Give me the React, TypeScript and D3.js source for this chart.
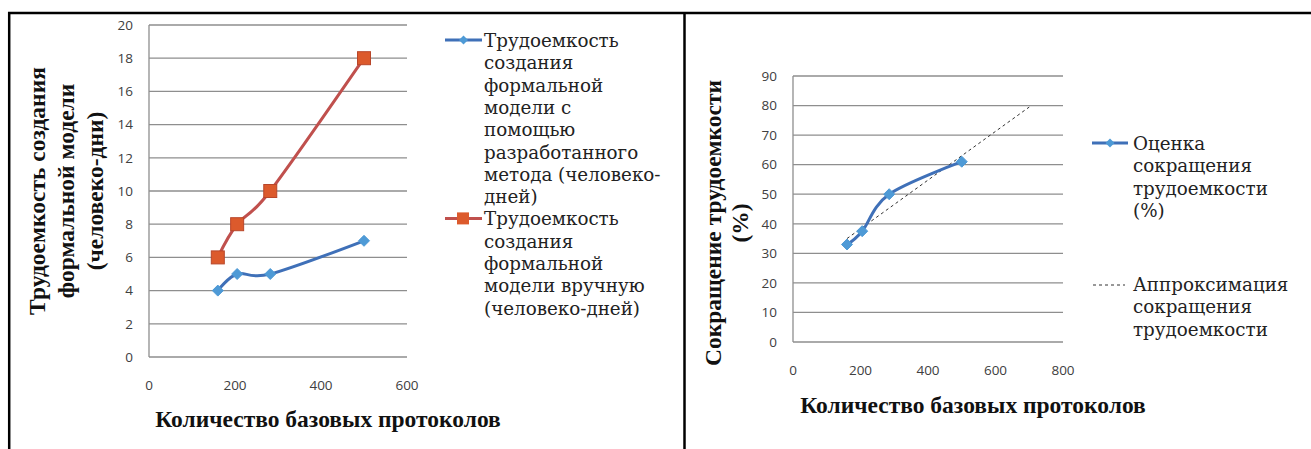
import React from 'react';
import * as d3 from 'd3';

// left chart: labour input (person-days) vs number of base protocols
const protocolsL: number[] = [160, 205, 282, 500];
const methodDays: number[] = [4, 5, 5, 7];
const manualDays: number[] = [6, 8, 10, 18];
const leftYTicks: number[] = [0, 2, 4, 6, 8, 10, 12, 14, 16, 18, 20];
const leftXTicks: number[] = [0, 200, 400, 600];

// right chart: reduction of labour input (%)
const protocolsR: number[] = [160, 205, 285, 500];
const reduction: number[] = [33, 37.5, 50, 61];
const trendX: number[] = [160, 700];
const trendY: number[] = [35, 79.5];
const rightYTicks: number[] = [0, 10, 20, 30, 40, 50, 60, 70, 80, 90];
const rightXTicks: number[] = [0, 200, 400, 600, 800];

const legendMethod: string[] = ['Трудоемкость', 'создания', 'формальной', 'модели с', 'помощью', 'разработанного', 'метода (человеко-', 'дней)'];
const legendManual: string[] = ['Трудоемкость', 'создания', 'формальной', 'модели вручную', '(человеко-дней)'];
const legendEstimate: string[] = ['Оценка', 'сокращения', 'трудоемкости', '(%)'];
const legendTrend: string[] = ['Аппроксимация', 'сокращения', 'трудоемкости'];
const xTitle = 'Количество базовых протоколов';
const leftYTitle: string[] = ['Трудоемкость создания', 'формальной модели', '(человеко-дни)'];
const rightYTitle: string[] = ['Сокращение трудоемкости', '(%)'];

const titleStyle = { fontFamily: 'Liberation Serif, Tinos, serif', fontWeight: 'bold' as const, fontSize: 23.5 };
const legendStyle = { fontFamily: 'DejaVu Serif, serif', fontSize: 18.3 };
const tickStyle = { fontFamily: 'Open Sans, Liberation Sans, sans-serif', fontSize: 13.5 };

const GRID = '#8e8e8e';
const TICK = '#404040';
const BLUE_LINE = '#3f70b8';
const BLUE_MARK = '#4e9ad6';
const RED_LINE = '#c0504d';
const RED_MARK = '#dc5a2c';

const diamond = (cx: number, cy: number, r: number) =>
    `M${cx},${cy - r}L${cx + r},${cy}L${cx},${cy + r}L${cx - r},${cy}Z`;

function App() {
    const xL = d3.scaleLinear().domain([0, 600]).range([149, 407]);
    const yL = d3.scaleLinear().domain([0, 20]).range([357, 25]);
    const xR = d3.scaleLinear().domain([0, 800]).range([793, 1063]);
    const yR = d3.scaleLinear().domain([0, 90]).range([342, 76]);

    const smooth = d3.curveCardinal.tension(0);
    const lineL = d3.line<[number, number]>().x(d => xL(d[0])).y(d => yL(d[1])).curve(smooth);
    const lineR = d3.line<[number, number]>().x(d => xR(d[0])).y(d => yR(d[1])).curve(smooth);
    const straightR = d3.line<[number, number]>().x(d => xR(d[0])).y(d => yR(d[1]));

    const method: [number, number][] = protocolsL.map((p, i) => [p, methodDays[i]]);
    const manual: [number, number][] = protocolsL.map((p, i) => [p, manualDays[i]]);
    const est: [number, number][] = protocolsR.map((p, i) => [p, reduction[i]]);
    const trend: [number, number][] = trendX.map((p, i) => [p, trendY[i]]);

    const lh = 22.3;

    return (
        <svg width={1311} height={449} style={{ position: 'absolute', left: 0, top: 0, background: '#fff' }}>
            {/* frame */}
            <line x1={8} x2={1311} y1={13} y2={13} stroke="#000" strokeWidth={2.5} />
            <line x1={9.2} x2={9.2} y1={12} y2={449} stroke="#000" strokeWidth={2.5} />
            <line x1={684.5} x2={684.5} y1={12} y2={449} stroke="#000" strokeWidth={2.5} />

            {/* ---------- left chart ---------- */}
            <g>
                {leftYTicks.map(t => (
                    <g key={t}>
                        <line x1={xL(0)} x2={xL(600)} y1={yL(t)} y2={yL(t)} stroke={GRID} strokeWidth={1.3} />
                        <text x={133} y={yL(t)} dy="0.35em" textAnchor="end" style={tickStyle} fill={TICK}>{t}</text>
                    </g>
                ))}
                <line x1={xL(0)} x2={xL(0)} y1={yL(20)} y2={yL(0)} stroke={GRID} strokeWidth={1.3} />
                {leftXTicks.map(t => (
                    <text key={t} x={xL(t)} y={385} dy="0.35em" textAnchor="middle" style={tickStyle} fill={TICK}>{t}</text>
                ))}
                <path d={lineL(manual) || ''} fill="none" stroke={RED_LINE} strokeWidth={3} />
                <path d={lineL(method) || ''} fill="none" stroke={BLUE_LINE} strokeWidth={3} />
                {manual.map((d, i) => (
                    <rect key={i} x={xL(d[0]) - 6.5} y={yL(d[1]) - 6.5} width={13} height={13} fill={RED_MARK} stroke="#b8462a" strokeWidth={1} />
                ))}
                {method.map((d, i) => (
                    <path key={i} d={diamond(xL(d[0]), yL(d[1]), 5.5)} fill={BLUE_MARK} stroke={BLUE_MARK} strokeWidth={1} />
                ))}
                <text x={328} y={419} dy="0.35em" textAnchor="middle" style={titleStyle} fill="#111">{xTitle}</text>
                {leftYTitle.map((s, i) => (
                    <text key={i} transform={`translate(${37 + i * 29},191) rotate(-90)`} dy="0.35em" textAnchor="middle" style={titleStyle} fill="#111">{s}</text>
                ))}

                {/* legend */}
                <line x1={445} x2={482} y1={40} y2={40} stroke={BLUE_LINE} strokeWidth={3} />
                <path d={diamond(463.5, 40, 4.5)} fill={BLUE_MARK} />
                {legendMethod.map((s, i) => (
                    <text key={i} x={484} y={47 + i * lh} style={legendStyle} fill="#222">{s}</text>
                ))}
                <line x1={445} x2={482} y1={47 + 8 * lh - 7} y2={47 + 8 * lh - 7} stroke={RED_LINE} strokeWidth={3} />
                <rect x={457} y={47 + 8 * lh - 13} width={12} height={12} fill={RED_MARK} />
                {legendManual.map((s, i) => (
                    <text key={i} x={484} y={47 + (8 + i) * lh} style={legendStyle} fill="#222">{s}</text>
                ))}
            </g>

            {/* ---------- right chart ---------- */}
            <g>
                {rightYTicks.map(t => (
                    <g key={t}>
                        <line x1={xR(0)} x2={xR(800)} y1={yR(t)} y2={yR(t)} stroke={GRID} strokeWidth={1.3} />
                        <text x={777} y={yR(t)} dy="0.35em" textAnchor="end" style={tickStyle} fill={TICK}>{t}</text>
                    </g>
                ))}
                <line x1={xR(0)} x2={xR(0)} y1={yR(90)} y2={yR(0)} stroke={GRID} strokeWidth={1.3} />
                {rightXTicks.map(t => (
                    <text key={t} x={xR(t)} y={370} dy="0.35em" textAnchor="middle" style={tickStyle} fill={TICK}>{t}</text>
                ))}
                <path d={straightR(trend) || ''} fill="none" stroke="#333" strokeWidth={1} strokeDasharray="3,3" />
                <path d={lineR(est) || ''} fill="none" stroke={BLUE_LINE} strokeWidth={3} />
                {est.map((d, i) => (
                    <path key={i} d={diamond(xR(d[0]), yR(d[1]), 5.5)} fill={BLUE_MARK} stroke={BLUE_MARK} strokeWidth={1} />
                ))}
                <text x={973} y={405} dy="0.35em" textAnchor="middle" style={titleStyle} fill="#111">{xTitle}</text>
                {rightYTitle.map((s, i) => (
                    <text key={i} transform={`translate(${713 + i * 27},223) rotate(-90)`} dy="0.35em" textAnchor="middle" style={titleStyle} fill="#111">{s}</text>
                ))}

                {/* legend */}
                <line x1={1092} x2={1128} y1={143} y2={143} stroke={BLUE_LINE} strokeWidth={3} />
                <path d={diamond(1110, 143, 4.5)} fill={BLUE_MARK} />
                {legendEstimate.map((s, i) => (
                    <text key={i} x={1133} y={150 + i * lh} style={legendStyle} fill="#222">{s}</text>
                ))}
                <line x1={1093} x2={1125} y1={285} y2={285} stroke="#333" strokeWidth={1} strokeDasharray="3,3" />
                {legendTrend.map((s, i) => (
                    <text key={i} x={1133} y={291 + i * lh} style={legendStyle} fill="#222">{s}</text>
                ))}
            </g>
        </svg>
    );
}

export default App;
